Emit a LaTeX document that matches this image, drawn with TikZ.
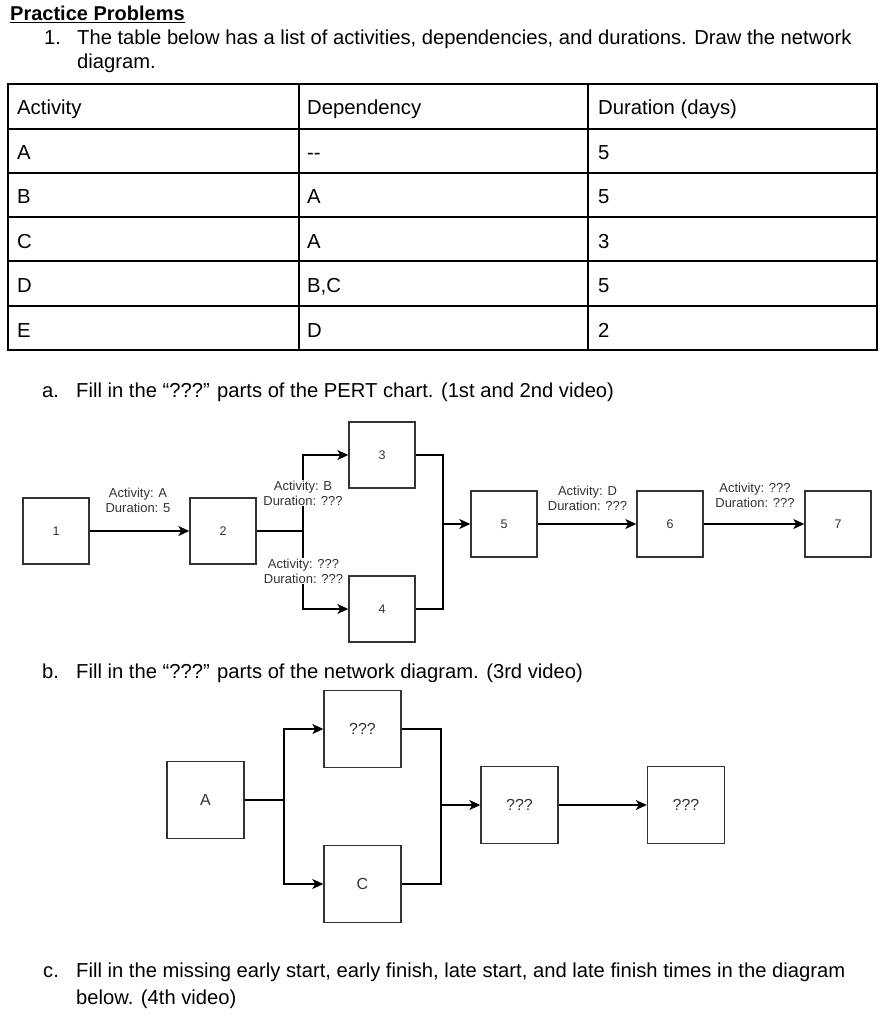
\documentclass[tikz,border=0pt]{standalone}
\usepackage{fontspec}
\setmainfont{Liberation Sans}
\usetikzlibrary{arrows.meta}
\definecolor{boxgray}{HTML}{333333}
\begin{document}
\begin{tikzpicture}[x=1pt,y=-1pt,
  txt/.style={anchor=base west, inner sep=0pt, font=\fontsize{20.2}{24}\selectfont},
  cell/.style={anchor=base west, inner sep=0pt, font=\fontsize{20.3}{24}\selectfont},
  tline/.style={line width=1.5pt},
  pbox/.style={draw=boxgray, line width=1.4pt, minimum size=66pt, inner sep=0pt, font=\fontsize{12.5}{14}\selectfont, text=boxgray},
  nbox/.style={draw=boxgray, line width=1.4pt, minimum size=77pt, inner sep=0pt, font=\fontsize{16}{18}\selectfont, text=boxgray},
  conn/.style={line width=1.4pt},
  arr/.style={conn, -{Stealth[length=11pt,width=10pt,inset=3pt]}},
  lbl/.style={fill=white, inner sep=1pt, align=center, font=\fontsize{13}{15}\selectfont, text=boxgray},
]
\fill[white] (0,0) rectangle (884,1024);
\useasboundingbox (0,0) rectangle (884,1024);

% heading and question text
\node[txt, font=\fontsize{20}{24}\selectfont\bfseries] (title) at (10,21) {\underline{Practice Problems}};
\node[txt] (n1) at (44,45) {1.};
\node[txt] (q1a) at (77,45) {The table below has a list of activities, dependencies, and durations. Draw the network};
\node[txt] (q1b) at (77,69) {diagram.};

% table
\draw[tline] (8,84) rectangle (877,350);
\foreach \yy in {129,173,217,261,306} {\draw[tline] (8,\yy) -- (877,\yy);}
\draw[tline] (299,84) -- (299,350);
\draw[tline] (588,84) -- (588,350);

\node[cell] (h1) at (17,115) {Activity};
\node[cell] (h2) at (307,115) {Dependency};
\node[cell] (h3) at (598,115) {Duration (days)};

\node[cell] (a1) at (17,160) {A};
\node[cell] (a2) at (307,160) {-{}-};
\node[cell] (a3) at (598,160) {5};
\node[cell] (b1) at (17,204) {B};
\node[cell] (b2) at (307,204) {A};
\node[cell] (b3) at (598,204) {5};
\node[cell] (c1) at (17,248) {C};
\node[cell] (c2) at (307,248) {A};
\node[cell] (c3) at (598,248) {3};
\node[cell] (d1) at (17,292) {D};
\node[cell] (d2) at (307,292) {B,C};
\node[cell] (d3) at (598,292) {5};
\node[cell] (e1) at (17,337) {E};
\node[cell] (e2) at (307,337) {D};
\node[cell] (e3) at (598,337) {2};

% part a
\node[txt] (na) at (42,397) {a.};
\node[txt] (qa) at (76,397) {Fill in the “???” parts of the PERT chart. (1st and 2nd video)};

\node[pbox] (p1) at (56,531) {1};
\node[pbox] (p2) at (223,531) {2};
\node[pbox] (p3) at (382,455) {3};
\node[pbox] (p4) at (382,609) {4};
\node[pbox] (p5) at (504,524) {5};
\node[pbox] (p6) at (670,524) {6};
\node[pbox] (p7) at (838,524) {7};
\coordinate (j1) at (303,531);
\coordinate (m1) at (443,524);

\draw[arr] (p1) -- (p2);
\draw[conn] (p2.east) -- (j1);
\draw[arr] (j1) |- (p3.west);
\draw[arr] (j1) |- (p4.west);
\draw[conn] (p3.east) -| (m1);
\draw[conn] (p4.east) -| (m1);
\draw[arr] (m1) -- (p5.west);
\draw[arr] (p5) -- (p6);
\draw[arr] (p6) -- (p7);

\node[lbl] (la) at (138,500) {Activity: A\\Duration: 5};
\node[lbl] (lb) at (303,493) {Activity: B\\Duration: ???};
\node[lbl] (lc) at (303.5,571) {Activity: ???\\Duration: ???};
\node[lbl] (ld) at (587.5,498) {Activity: D\\Duration: ???};
\node[lbl] (le) at (755,495) {Activity: ???\\Duration: ???};

% part b
\node[txt] (nb) at (42,678) {b.};
\node[txt] (qb) at (76,678) {Fill in the “???” parts of the network diagram. (3rd video)};

\node[nbox] (nA) at (205.5,800) {A};
\node[nbox] (nT) at (362.5,729) {???};
\node[nbox] (nC) at (362.5,884) {C};
\node[nbox] (nM) at (519.5,805) {???};
\node[nbox] (nR) at (686,805) {???};
\coordinate (j2) at (284,800);
\coordinate (m2) at (441,805);

\draw[conn] (nA.east) -- (j2);
\draw[arr] (j2) |- (nT.west);
\draw[arr] (j2) |- (nC.west);
\draw[conn] (nT.east) -| (m2);
\draw[conn] (nC.east) -| (m2);
\draw[arr] (m2) -- (nM.west);
\draw[arr] (nM) -- (nR);

% part c
\node[txt] (nc) at (43,977) {c.};
\node[txt] (qc1) at (76,977) {Fill in the missing early start, early finish, late start, and late finish times in the diagram};
\node[txt] (qc2) at (76,1004) {below. (4th video)};
\end{tikzpicture}
\end{document}
